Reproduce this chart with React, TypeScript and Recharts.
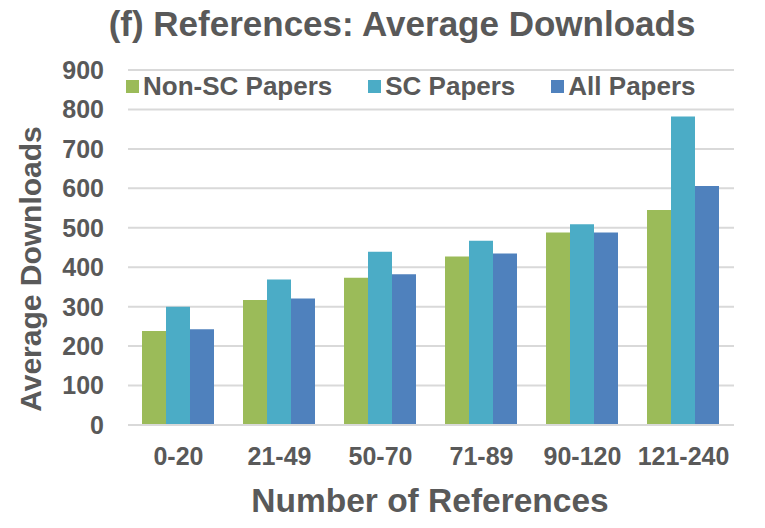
import { BarChart, Bar, XAxis, YAxis, CartesianGrid, Legend } from 'recharts';

// values
const categories = ['0-20', '21-49', '50-70', '71-89', '90-120', '121-240'];
const nonScPapers = [238, 317, 373, 427, 488, 545];
const scPapers = [300, 369, 439, 467, 509, 782];
const allPapers = [243, 321, 382, 435, 488, 606];
const yTicks = [0, 100, 200, 300, 400, 500, 600, 700, 800, 900];

const seriesNames = ['Non-SC Papers', 'SC Papers', 'All Papers'];
const seriesColors = ['#9BBB59', '#4BACC6', '#4F81BD'];

const data = categories.map((name, i) => ({
  name,
  nonSc: nonScPapers[i],
  sc: scPapers[i],
  all: allPapers[i],
}));

const FONT = '"Liberation Sans", Arial, sans-serif';
const TEXT = '#595959';

function LegendContent() {
  return (
    <div style={{ display: 'flex', gap: 36, fontFamily: FONT, fontWeight: 700, fontSize: 26, color: TEXT, lineHeight: '26px' }}>
      {seriesNames.map((n, i) => (
        <div key={n} style={{ display: 'flex', alignItems: 'center' }}>
          <span style={{ width: 13, height: 13, background: seriesColors[i], marginRight: 4, display: 'inline-block' }} />
          <span>{n}</span>
        </div>
      ))}
    </div>
  );
}

export default function App() {
  return (
    <div style={{ position: 'absolute', left: 0, top: 0, width: 765, height: 528, background: '#fff' }}>
      <div
        style={{
          position: 'absolute', left: 0, width: 765, top: 4, textAlign: 'center',
          fontFamily: FONT, fontWeight: 700, fontSize: 35, color: TEXT, lineHeight: '40px',
          paddingLeft: 39, boxSizing: 'border-box',
        }}
      >
        (f) References: Average Downloads
      </div>
      <BarChart
        width={765}
        height={528}
        data={data}
        margin={{ top: 70, right: 31, left: 0, bottom: 0 }}
        barCategoryGap={14}
        barGap={0}
      >
        <CartesianGrid vertical={false} stroke="#D9D9D9" strokeWidth={2} />
        <XAxis
          dataKey="name"
          axisLine={{ stroke: '#D9D9D9', strokeWidth: 2 }}
          tickLine={false}
          tickSize={0}
          tickMargin={22}
          height={103}
          interval={0}
          tick={{ fill: TEXT, fontSize: 25, fontWeight: 700, fontFamily: FONT }}
        />
        <YAxis
          width={128}
          domain={[0, 900]}
          ticks={yTicks}
          interval={0}
          axisLine={false}
          tickLine={false}
          tickSize={0}
          tickMargin={24}
          tick={{ fill: TEXT, fontSize: 25, fontWeight: 700, fontFamily: FONT }}
        />
        <Legend
          verticalAlign="middle"
          align="center"
          content={() => <LegendContent />}
          wrapperStyle={{ position: 'absolute', top: 73, left: 126, width: 'auto' }}
        />
        <Bar dataKey="nonSc" name={seriesNames[0]} fill={seriesColors[0]} isAnimationActive={false} />
        <Bar dataKey="sc" name={seriesNames[1]} fill={seriesColors[1]} isAnimationActive={false} />
        <Bar dataKey="all" name={seriesNames[2]} fill={seriesColors[2]} isAnimationActive={false} />
      </BarChart>
      <div
        style={{
          position: 'absolute', left: 0, width: 765, top: 483, textAlign: 'center',
          fontFamily: FONT, fontWeight: 700, fontSize: 33.5, color: TEXT, lineHeight: '36px',
          paddingLeft: 95, boxSizing: 'border-box',
        }}
      >
        Number of References
      </div>
      <div
        style={{
          position: 'absolute', left: 31 - 160, top: 269 - 18, width: 320, height: 36,
          transform: 'rotate(-90deg)', textAlign: 'center',
          fontFamily: FONT, fontWeight: 700, fontSize: 30, color: TEXT, lineHeight: '36px',
        }}
      >
        Average Downloads
      </div>
    </div>
  );
}
